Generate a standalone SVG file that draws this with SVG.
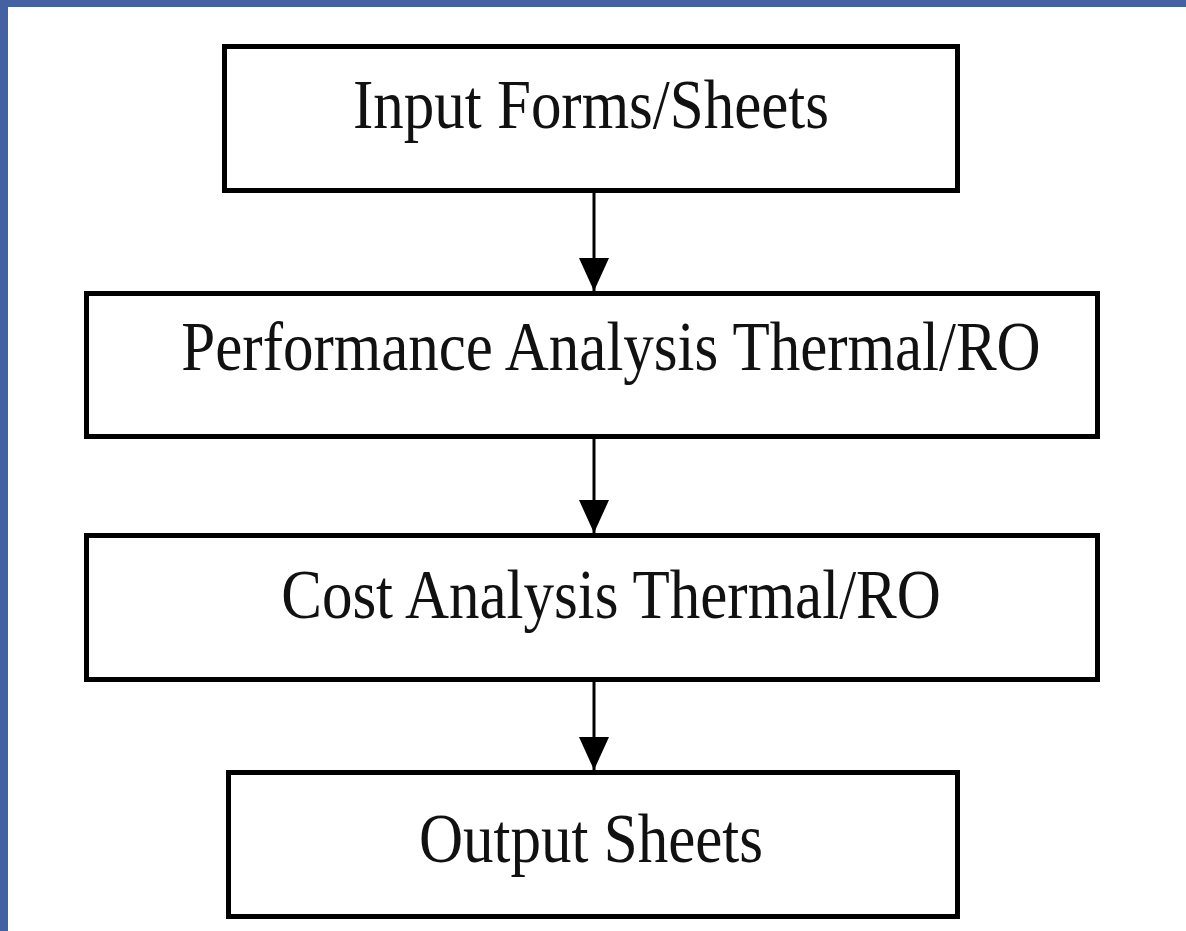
<svg xmlns="http://www.w3.org/2000/svg" width="1186" height="931" viewBox="0 0 1186 931">
  <style>
    .box { fill: #ffffff; stroke: #000000; stroke-width: 5; }
    .lbl { font-family: "Liberation Serif", "Times New Roman", serif; font-size: 61px; fill: #111111; text-anchor: middle; }
    .conn { stroke: #000000; stroke-width: 3; fill: none; marker-end: url(#ah); }
  </style>
  <defs>
    <marker id="ah" viewBox="0 0 33 30" refX="33" refY="15" markerWidth="33" markerHeight="30" markerUnits="userSpaceOnUse" orient="auto">
      <path d="M0,0 L33,15 L0,30 Z" fill="#000000"/>
    </marker>
  </defs>
  <rect x="0" y="0" width="1186" height="931" fill="#ffffff"/>
  <g id="frame">
    <rect x="0" y="0" width="1186" height="7" fill="#4462A3"/>
    <rect x="0" y="0" width="8" height="931" fill="#4462A3"/>
  </g>
  <g id="connectors">
    <line class="conn" x1="594" y1="193" x2="594" y2="291"/>
    <line class="conn" x1="594" y1="439" x2="594" y2="533"/>
    <line class="conn" x1="594" y1="682" x2="594" y2="770"/>
  </g>
  <g id="node-input">
    <rect class="box" x="224.5" y="46.5" width="733" height="144"/>
    <text class="lbl" transform="translate(591,128) scale(1,1.16)">Input Forms/Sheets</text>
  </g>
  <g id="node-performance">
    <rect class="box" x="86.5" y="293.5" width="1011" height="143"/>
    <text class="lbl" transform="translate(611,370) scale(1,1.16)">Performance Analysis Thermal/RO</text>
  </g>
  <g id="node-cost">
    <rect class="box" x="86.5" y="535.5" width="1011" height="144"/>
    <text class="lbl" transform="translate(611,618) scale(1,1.16)">Cost Analysis Thermal/RO</text>
  </g>
  <g id="node-output">
    <rect class="box" x="228.5" y="772.5" width="729" height="144"/>
    <text class="lbl" transform="translate(591,862) scale(1,1.16)">Output Sheets</text>
  </g>
</svg>
